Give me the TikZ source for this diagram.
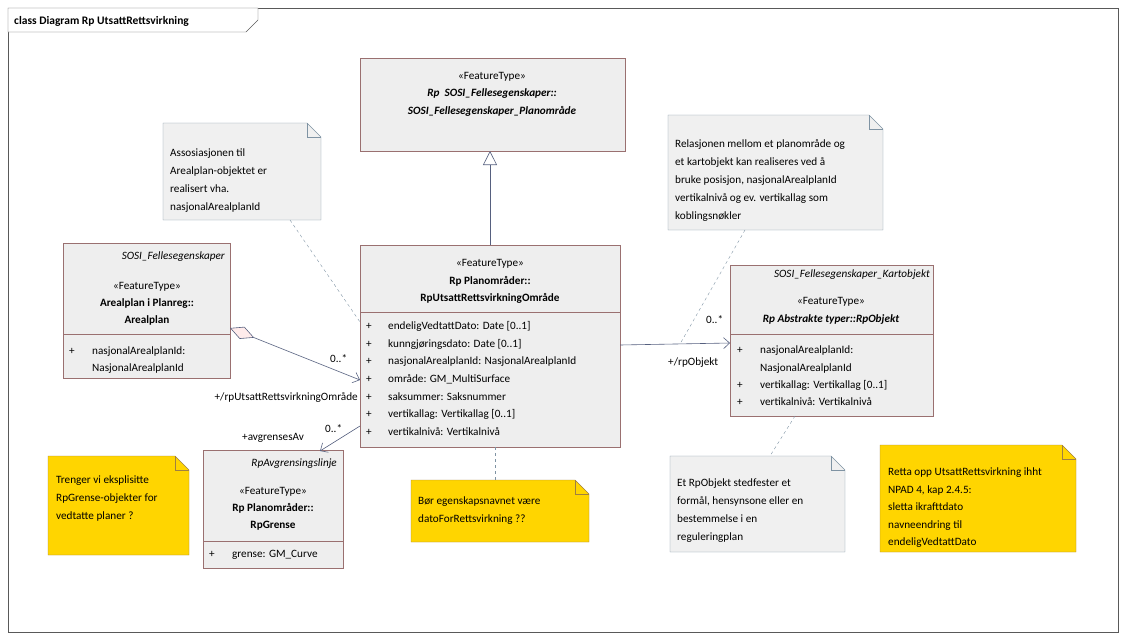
\documentclass[tikz,border=0pt]{standalone}
\usepackage{fontspec}
\setmainfont{Carlito}
\usetikzlibrary{arrows.meta}
\definecolor{clsline}{HTML}{9A7070}
\definecolor{clsfill}{HTML}{EEEEEE}
\definecolor{noteline}{HTML}{7F93A3}
\definecolor{notefill}{HTML}{F0F0F0}
\definecolor{yelfill}{HTML}{FFD500}
\definecolor{yelline}{HTML}{A08040}
\definecolor{conline}{HTML}{56607F}
\newcommand{\dfont}{\fontsize{11.2}{13}\selectfont}
\tikzset{
  cls/.style={draw=clsline, fill=clsfill, semithick},
  txt/.style={inner sep=0pt, anchor=base, font=\dfont},
  lft/.style={txt, anchor=base west},
  conn/.style={draw=conline, semithick},
  notelink/.style={draw=noteline, dashed, thin},
  assoc/.style={-{Straight Barb[length=6pt,width=11pt]}},
}
% folded note: #1 fill, #2 line, corners
\newcommand{\notebox}[6]{%
  \draw[fill=#1, draw=#2, thin] (#3,#4) -- (#5-14,#4) -- (#5,#4+14) -- (#5,#6) -- (#3,#6) -- cycle;
  \draw[draw=#2, thin] (#5-14,#4) -- (#5-14,#4+14) -- (#5,#4+14);}
\begin{document}
\begin{tikzpicture}[x=1pt, y=-1pt]
\useasboundingbox (0,0) rectangle (1127,640);
% frame
\draw[gray!70!black] (8,8) rectangle (1118,632);
\draw[gray!70!black, fill=white] (8,8) -- (258,8) -- (258,20) -- (246,32) -- (8,32) -- cycle;
\node[lft, font=\fontsize{11.5}{13}\selectfont\bfseries] (title) at (14,24) {class Diagram Rp UtsattRettsvirkning};

% classes
\draw[cls] (360,58) rectangle (625,151);
\node[txt] (supst) at (492,79) {«FeatureType»};
\node[txt, font=\dfont\bfseries\itshape] (supa) at (492,96) {Rp\ \ SOSI\_Fellesegenskaper::};
\node[txt, font=\dfont\bfseries\itshape] (supb) at (492,114) {SOSI\_Fellesegenskaper\_Planområde};

\draw[cls] (360,245) rectangle (620,447);
\draw[clsline, semithick] (360,312) -- (620,312);
\node[txt] (mainst) at (490,266) {«FeatureType»};
\node[txt, font=\dfont\bfseries] (maina) at (490,284) {Rp Planområder::};
\node[txt, font=\dfont\bfseries] (mainb) at (490,301) {RpUtsattRettsvirkningOmråde};
\foreach \t [count=\i] in {endeligVedtattDato: Date [0..1], kunngjøringsdato: Date [0..1],
  nasjonalArealplanId: NasjonalArealplanId, område: GM\_MultiSurface, saksummer: Saksnummer,
  vertikallag: Vertikallag [0..1], vertikalnivå: Vertikalnivå} {
  \node[lft] (mainp\i) at (366,312+17.6*\i) {+};
  \node[lft] (maina\i) at (388,312+17.6*\i) {\t};
}

\draw[cls] (63,243) rectangle (230,378);
\draw[clsline, semithick] (63,334) -- (230,334);
\node[txt, font=\dfont\itshape, anchor=base east] (arst) at (225,259) {SOSI\_Fellesegenskaper};
\node[txt] (arft) at (147,289) {«FeatureType»};
\node[txt, font=\dfont\bfseries] (ara) at (147,306) {Arealplan i Planreg::};
\node[txt, font=\dfont\bfseries] (arb) at (147,323) {Arealplan};
\node[lft] (arp) at (69,354) {+};
\node[lft] (ar1) at (92,354) {nasjonalArealplanId:};
\node[lft] (ar2) at (92,371) {NasjonalArealplanId};

\draw[cls] (730,265) rectangle (933,416);
\draw[clsline, semithick] (730,334) -- (933,334);
\node[txt, font=\dfont\itshape, anchor=base east] (obst) at (930,277) {SOSI\_Fellesegenskaper\_Kartobjekt};
\node[txt] (obft) at (831,304) {«FeatureType»};
\node[txt, font=\dfont\bfseries\itshape] (oba) at (831,322) {Rp Abstrakte typer::RpObjekt};
\node[lft] (obp1) at (737,353) {+};
\node[lft] (ob1) at (760,353) {nasjonalArealplanId:};
\node[lft] (ob2) at (760,371) {NasjonalArealplanId};
\node[lft] (obp3) at (737,388) {+};
\node[lft] (ob3) at (760,388) {vertikallag: Vertikallag [0..1]};
\node[lft] (obp4) at (737,405) {+};
\node[lft] (ob4) at (760,405) {vertikalnivå: Vertikalnivå};

\draw[cls] (203,450) rectangle (343,568);
\draw[clsline, semithick] (203,541) -- (343,541);
\node[txt, font=\dfont\itshape, anchor=base east] (grst) at (337,466) {RpAvgrensingslinje};
\node[txt] (grft) at (273,494) {«FeatureType»};
\node[txt, font=\dfont\bfseries] (gra) at (273,511) {Rp Planområder::};
\node[txt, font=\dfont\bfseries] (grb) at (273,528) {RpGrense};
\node[lft] (grp) at (209,557) {+};
\node[lft] (gr1) at (232,557) {grense: GM\_Curve};

% notes
\notebox{notefill}{noteline}{163}{123}{321}{220}
\foreach \t [count=\i] in {Assosiasjonen til, Arealplan-objektet er, realisert vha., nasjonalArealplanId}
  \node[lft] (na\i) at (170,138+18*\i) {\t};
\notebox{notefill}{noteline}{668}{115}{883}{230}
\foreach \t [count=\i] in {Relasjonen mellom et planområde og, et kartobjekt kan realiseres ved å,
  {bruke posisjon, nasjonalArealplanId}, vertikalnivå og ev. vertikallag som, koblingsnøkler}
  \node[lft] (nb\i) at (675,129+18*\i) {\t};
\notebox{yelfill}{yelline}{48}{456}{189}{555}
\foreach \t [count=\i] in {Trenger vi eksplisitte, RpGrense-objekter for, vedtatte planer ?}
  \node[lft] (nc\i) at (56,465+18*\i) {\t};
\notebox{yelfill}{yelline}{411}{480}{589}{542}
\foreach \t [count=\i] in {Bør egenskapsnavnet være, datoForRettsvirkning ??}
  \node[lft] (nd\i) at (418,486+18*\i) {\t};
\notebox{notefill}{noteline}{670}{456}{845}{552}
\foreach \t [count=\i] in {Et RpObjekt stedfester et, {formål, hensynsone eller en}, bestemmelse i en, reguleringplan}
  \node[lft] (ne\i) at (677,468+18*\i) {\t};
\notebox{yelfill}{yelline}{880}{445}{1076}{552}
\foreach \t [count=\i] in {Retta opp UtsattRettsvirkning ihht, {NPAD 4, kap 2.4.5:}, sletta ikrafttdato,
  navneendring til, endeligVedtattDato}
  \node[lft] (nf\i) at (888,458+17.5*\i) {\t};

% anchors
\coordinate (mainT) at (490,245);
\coordinate (supB) at (490,151);
\coordinate (arR) at (230,328);
\coordinate (mainL) at (360,380);
\coordinate (mainBL) at (360,426);
\coordinate (grT) at (320,451);
\coordinate (mainR) at (620,345);
\coordinate (obL) at (730,343);
\coordinate (naB) at (290,220);
\coordinate (mainTL) at (360,322);
\coordinate (nbB) at (745,230);
\coordinate (obX) at (680,344);
\coordinate (mainB) at (495,447);
\coordinate (ndT) at (495,480);
\coordinate (obB) at (795,416);
\coordinate (neT) at (770,456);

% connectors
\draw[conn, -{Triangle[open, length=14pt, width=14pt, fill=white]}] (mainT) -- (supB);
\draw[conn, {Diamond[fill=red!8, length=26pt, width=13pt]}-{Straight Barb[length=6pt,width=11pt]}] (arR) -- (mainL);
\draw[conn, assoc] (mainBL) -- (grT);
\draw[conn, assoc] (mainR) -- (obL);
\node[lft] (m1) at (330,362) {0..*};
\node[txt, anchor=base east] (r1) at (358,400) {+/rpUtsattRettsvirkningOmråde};
\node[lft] (m2) at (325,432) {0..*};
\node[lft] (r2) at (242,440) {+avgrensesAv};
\node[lft] (m3) at (706,323) {0..*};
\node[lft] (r3) at (668,365) {+/rpObjekt};

\draw[notelink] (naB) -- (mainTL);
\draw[notelink] (nbB) -- (obX);
\draw[notelink] (mainB) -- (ndT);
\draw[notelink] (obB) -- (neT);
\end{tikzpicture}
\end{document}
